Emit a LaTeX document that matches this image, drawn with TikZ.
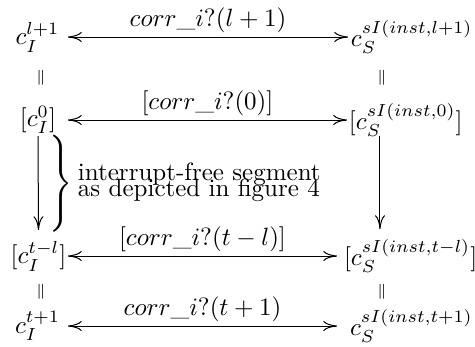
\documentclass[tikz,border=0pt]{standalone}
\usepackage{graphicx}
\usetikzlibrary{arrows.meta,calc}
\tikzset{
  ent/.style={inner sep=0pt, outer sep=0pt},
  lbl/.style={inner sep=1.5pt, above, midway},
  eqmark/.style={inner sep=0pt, font=\fontsize{6pt}{7pt}\selectfont},
  cmtip/.tip={Computer Modern Rightarrow[length=5.5pt,width=4pt]},
  tipto/.style={-cmtip},
  tipboth/.style={cmtip-cmtip},
}
\begin{document}
\begin{tikzpicture}[x=0.4pt,y=-0.4pt]
\useasboundingbox (0,0) rectangle (475,347);

% left column (centred)
\node[ent] (I1)  at (37.5,37)  {$c_I^{l+1}$};
\node[ent] (I0)  at (38,120)   {$[c_I^0]$};
\node[ent] (Itl) at (38.5,256) {$[c_I^{t-l}]$};
\node[ent] (It1) at (37.5,326) {$c_I^{t+1}$};

% right column (left aligned)
\node[ent,anchor=west] (S1)  at (351,37)  {$c_S^{sI(inst,l+1)}$};
\node[ent,anchor=west] (S0)  at (349,120) {$[c_S^{sI(inst,0)}]$};
\node[ent,anchor=west] (Stl) at (344,256) {$[c_S^{sI(inst,t-l)}]$};
\node[ent,anchor=west] (St1) at (350,326) {$c_S^{sI(inst,t+1)}$};

% equality marks
\node[eqmark] (eqL1) at (41,78)  {$\|$};
\node[eqmark] (eqL2) at (41,292) {$\|$};
\node[eqmark] (eqR1) at (382,78)  {$\|$};
\node[eqmark] (eqR2) at (382,292) {$\|$};

% horizontal correspondences
\draw[tipboth] ($(I1.center)+(30.5,0)$) -- ($(S1.west)+(-3,0)$)
  node[lbl] (L1) {$corr\_i?(l+1)$};
\draw[tipboth] ($(I0.center)+(30,0)$) -- ($(S0.west)+(-2,0)$)
  node[lbl] (L2) {$[corr\_i?(0)]$};
\draw[tipboth] ($(Itl.center)+(29.5,0)$) -- ($(Stl.west)+(-7,0)$)
  node[lbl] (L3) {$[corr\_i?(t-l)]$};
\draw[tipboth] ($(It1.center)+(30.5,0)$) -- ($(St1.west)+(-13,0)$)
  node[lbl] (L4) {$corr\_i?(t+1)$};

% vertical arrows
\draw[tipto] ($(I0.center)+(0,16)$) -- ($(Itl.center)+(0,-26)$);
\draw[tipto] ($(S0.west)+(31,16)$) -- ($(Stl.west)+(36,-27)$);

% brace with explanation
\node[ent] (brace) at (61.5,184)
  {\resizebox*{9.2pt}{38.8pt}{$\Biggr\}$}};
\node[ent,anchor=base west] (seg1) at (78,180) {interrupt-free segment};
\node[ent,anchor=base west] (seg2) at (78,196) {as depicted in figure 4};
\end{tikzpicture}
\end{document}
